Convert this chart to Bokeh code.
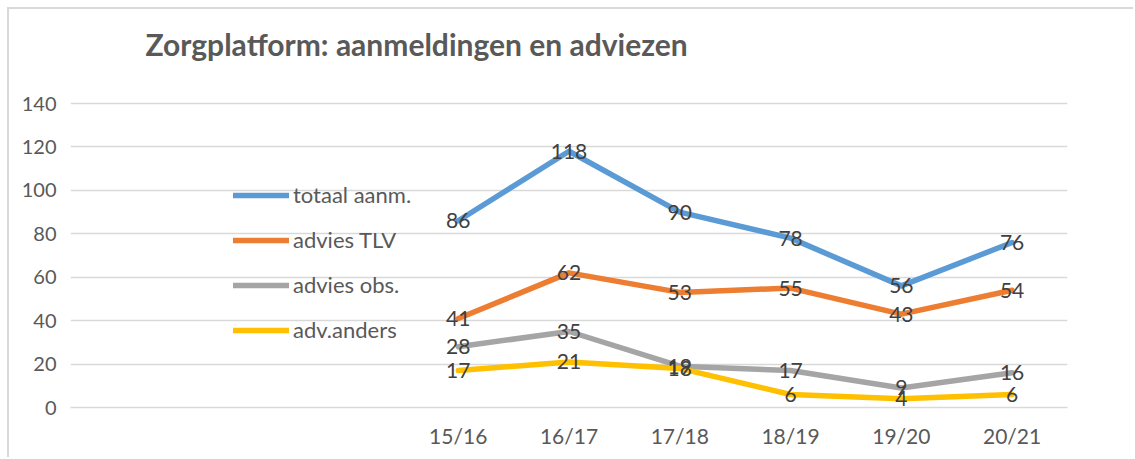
from bokeh.plotting import figure
from bokeh.models import Range1d, FixedTicker, Legend, LegendItem, ColumnDataSource, Label
from bokeh.core.properties import value
from bokeh.embed import file_html
from bokeh.resources import INLINE

seasons = ["15/16", "16/17", "17/18", "18/19", "19/20", "20/21"]
totaal_aanm = [86, 118, 90, 78, 56, 76]
advies_tlv = [41, 62, 53, 55, 43, 54]
advies_obs = [28, 35, 19, 17, 9, 16]
adv_anders = [17, 21, 18, 6, 4, 6]
y_ticks = [0, 20, 40, 60, 80, 100, 120, 140]

series = [
    ("totaal aanm.", totaal_aanm, "#5B9BD5"),
    ("advies TLV", advies_tlv, "#ED7D31"),
    ("advies obs.", advies_obs, "#A5A5A5"),
    ("adv.anders", adv_anders, "#FFC000"),
]

EMPTY_SLOTS = 3
xs = [i + EMPTY_SLOTS + 0.5 for i in range(len(seasons))]

FONT = "Lato"

# layout (pixels): value axis 0..140 spans 304 px; frame extends up to hold the title
AXIS_PX = 304
FRAME_PX = 398
y_max = y_ticks[-1]
y_top = y_max * FRAME_PX / AXIS_PX

p = figure(width=1135 - 9, height=459 - 9, output_backend="svg", toolbar_location=None,
           x_range=Range1d(0, EMPTY_SLOTS + len(seasons)), y_range=Range1d(0, y_top),
           min_border_left=61, min_border_right=68, min_border_top=0, min_border_bottom=52)
p.outline_line_color = None
p.background_fill_color = "white"
p.border_fill_color = "white"

title = Label(x=75, y=364, x_units="screen", y_units="screen",
              text="Zorgplatform: aanmeldingen en adviezen",
              text_font=FONT, text_font_size="30px", text_font_style="bold",
              text_color="#595959", text_baseline="alphabetic", text_align="left")
p.add_layout(title)

p.xgrid.grid_line_color = None
p.ygrid.grid_line_color = "#D9D9D9"
p.ygrid.grid_line_width = 1.5

p.yaxis.ticker = FixedTicker(ticks=y_ticks)
p.yaxis.axis_line_color = None
p.yaxis.major_tick_line_color = None
p.yaxis.minor_tick_line_color = None
p.yaxis.major_label_standoff = 8
p.yaxis.major_label_text_font = FONT
p.yaxis.major_label_text_font_size = "20px"
p.yaxis.major_label_text_color = "#595959"

p.xaxis.ticker = FixedTicker(ticks=xs)
p.xaxis.major_label_overrides = {x: s for x, s in zip(xs, seasons)}
p.xaxis.axis_line_color = "#D9D9D9"
p.xaxis.axis_line_width = 1.5
p.xaxis.major_tick_line_color = None
p.xaxis.minor_tick_line_color = None
p.xaxis.major_label_standoff = 9
p.xaxis.major_label_text_font = FONT
p.xaxis.major_label_text_font_size = "21px"
p.xaxis.major_label_text_color = "#595959"

items = []
for name, vals, color in series:
    r = p.line(xs, vals, line_color=color, line_width=5.5, line_join="round", line_cap="round")
    items.append(LegendItem(label=name, renderers=[r]))

for name, vals, color in series:
    src = ColumnDataSource(dict(x=xs, y=vals, t=[str(v) for v in vals]))
    p.text(x="x", y="y", text="t", source=src, text_align="center", text_baseline="middle",
           text_font=value(FONT), text_font_size="21px", text_color="#404040")

legend = Legend(items=items, location=(163, 64), glyph_width=56, glyph_height=24,
                label_height=24, label_standoff=4, spacing=18, padding=0, margin=0,
                border_line_color=None, background_fill_alpha=0,
                label_text_font=FONT, label_text_font_size="22px", label_text_color="#595959")
p.add_layout(legend, "center")

p.margin = (7, 0, 0, 7)
p.styles = {"border-top": "2px solid #D9D9D9", "border-left": "2px solid #D9D9D9"}

open("out.html", "w").write(file_html(p, INLINE))
